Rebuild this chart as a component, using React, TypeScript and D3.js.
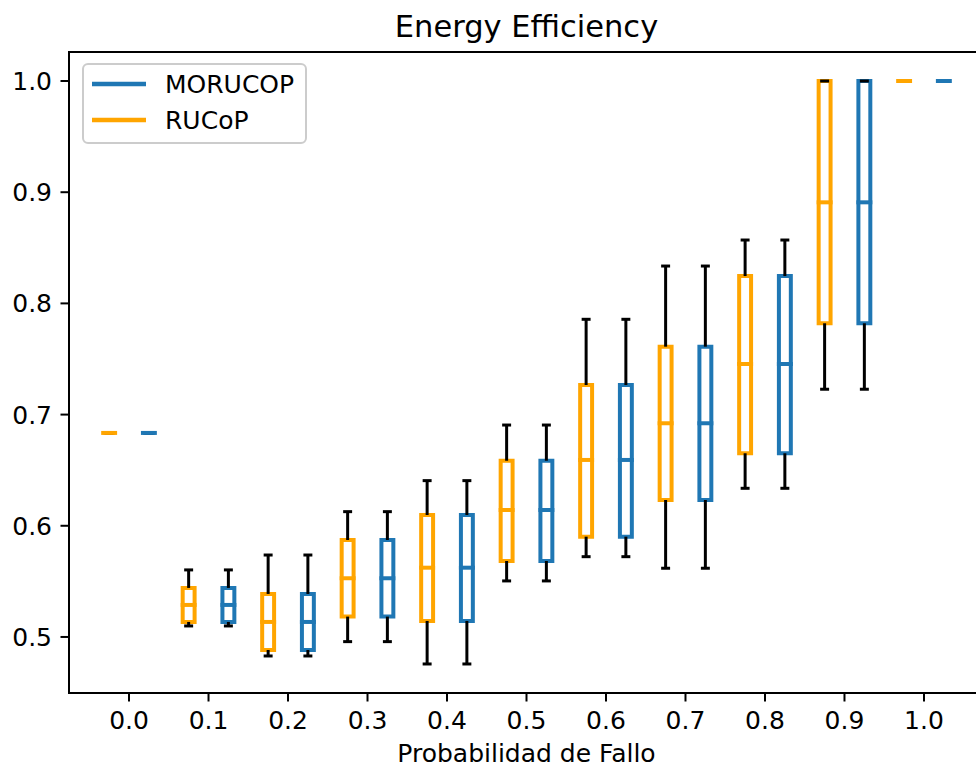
import React from "react";
import * as d3 from "d3";

const probabilities = [0.0, 0.1, 0.2, 0.3, 0.4, 0.5, 0.6, 0.7, 0.8, 0.9, 1.0];
// [whiskerLow, q1, median, q3, whiskerHigh]
const rucopStats = [
  [0.6835, 0.6835, 0.6835, 0.6835, 0.6835],
  [0.5099, 0.5135, 0.5288, 0.5441, 0.5603],
  [0.4829, 0.4883, 0.5135, 0.5387, 0.5737],
  [0.4958, 0.5183, 0.5528, 0.5872, 0.6127],
  [0.4757, 0.5144, 0.5623, 0.6097, 0.6406],
  [0.5504, 0.5683, 0.6142, 0.6585, 0.6906],
  [0.5722, 0.5902, 0.6592, 0.7266, 0.7857],
  [0.5618, 0.6232, 0.6922, 0.7611, 0.8336],
  [0.6337, 0.6652, 0.7455, 0.8246, 0.857],
  [0.7228, 0.7821, 0.8909, 1.0, 1.0],
  [1.0, 1.0, 1.0, 1.0, 1.0],
];
const morucopStats = [
  [0.6835, 0.6835, 0.6835, 0.6835, 0.6835],
  [0.5099, 0.5135, 0.5288, 0.5441, 0.5603],
  [0.4829, 0.4883, 0.5135, 0.5387, 0.5737],
  [0.4958, 0.5183, 0.5528, 0.5872, 0.6127],
  [0.4757, 0.5144, 0.5623, 0.6097, 0.6406],
  [0.5504, 0.5683, 0.6142, 0.6585, 0.6906],
  [0.5722, 0.5902, 0.6592, 0.7266, 0.7857],
  [0.5618, 0.6232, 0.6922, 0.7611, 0.8336],
  [0.6337, 0.6652, 0.7455, 0.8246, 0.857],
  [0.7228, 0.7821, 0.8909, 1.0, 1.0],
  [1.0, 1.0, 1.0, 1.0, 1.0],
];
const xTicks = [0.0, 0.1, 0.2, 0.3, 0.4, 0.5, 0.6, 0.7, 0.8, 0.9, 1.0];
const yTicks = [0.5, 0.6, 0.7, 0.8, 0.9, 1.0];

const series = [
  { name: "MORUCOP", color: "#1f77b4", offset: 0.025, stats: morucopStats },
  { name: "RUCoP", color: "#ffa500", offset: -0.025, stats: rucopStats },
];

const W = 976;
const H = 768;
const left = 69;
const right = 984;
const top = 52;
const bottom = 693;
const boxWidth = 0.015;
const font = "DejaVu Sans, sans-serif";

export default function App() {
  const x = d3.scaleLinear().domain([-0.0755, 1.0755]).range([left, right]);
  const y = d3.scaleLinear().domain([0.4496, 1.0261]).range([bottom, top]);
  const bw = x(boxWidth) - x(0);

  return (
    <svg
      width={W}
      height={H}
      style={{ position: "fixed", left: 0, top: 0, background: "#fff" }}
      fontFamily={font}
    >
      <rect x={0} y={0} width={W} height={H} fill="#fff" />
      <defs>
        <clipPath id="plot">
          <rect x={left} y={top - 5} width={right - left} height={bottom - top + 10} />
        </clipPath>
      </defs>
      <g clipPath="url(#plot)">
        {series.map((s) =>
          probabilities.map((p, i) => {
            const [lo, q1, med, q3, hi] = s.stats[i];
            const cx = x(p + s.offset);
            const x0 = cx - bw / 2;
            const x1 = cx + bw / 2;
            const boxPath = `M${x0},${y(q1)}L${x0},${y(q3)}L${x1},${y(q3)}L${x1},${y(q1)}Z`;
            return (
              <g key={s.name + i}>
                <path d={boxPath} fill="none" stroke={s.color} strokeWidth={4} strokeLinejoin="miter" />
                <line x1={cx} x2={cx} y1={y(q1)} y2={y(lo)} stroke="#000" strokeWidth={3} />
                <line x1={cx} x2={cx} y1={y(q3)} y2={y(hi)} stroke="#000" strokeWidth={3} />
                <line x1={cx - bw / 4} x2={cx + bw / 4} y1={y(lo)} y2={y(lo)} stroke="#000" strokeWidth={3} strokeLinecap="square" />
                <line x1={cx - bw / 4} x2={cx + bw / 4} y1={y(hi)} y2={y(hi)} stroke="#000" strokeWidth={3} strokeLinecap="square" />
                <line x1={x0} x2={x1} y1={y(med)} y2={y(med)} stroke={s.color} strokeWidth={4} strokeLinecap="square" />
              </g>
            );
          })
        )}
      </g>
      {/* spines */}
      <line x1={left} x2={left} y1={top} y2={bottom} stroke="#000" strokeWidth={2} strokeLinecap="square" />
      <line x1={left} x2={right} y1={bottom} y2={bottom} stroke="#000" strokeWidth={2} strokeLinecap="square" />
      <line x1={left} x2={right} y1={top} y2={top} stroke="#000" strokeWidth={2} strokeLinecap="square" />
      <line x1={right} x2={right} y1={top} y2={bottom} stroke="#000" strokeWidth={2} />
      {/* x ticks */}
      {xTicks.map((t) => (
        <g key={"x" + t}>
          <line x1={x(t)} x2={x(t)} y1={bottom} y2={bottom + 8.5} stroke="#000" strokeWidth={2} />
          <text x={x(t)} y={bottom + 36} textAnchor="middle" fontSize={25} fill="#000">
            {t.toFixed(1)}
          </text>
        </g>
      ))}
      {/* y ticks */}
      {yTicks.map((t) => (
        <g key={"y" + t}>
          <line x1={left - 8.5} x2={left} y1={y(t)} y2={y(t)} stroke="#000" strokeWidth={2} />
          <text x={left - 17} y={y(t) + 9} textAnchor="end" fontSize={25} fill="#000">
            {t.toFixed(1)}
          </text>
        </g>
      ))}
      <text x={(left + right) / 2} y={762} textAnchor="middle" fontSize={25} fill="#000">
        Probabilidad de Fallo
      </text>
      <text x={(left + right) / 2} y={37} textAnchor="middle" fontSize={30.5} fill="#000">
        Energy Efficiency
      </text>
      {/* legend */}
      <rect x={83} y={64} width={223} height={79} rx={5} fill="#fff" fillOpacity={0.8} stroke="#cccccc" strokeWidth={2} />
      {series.map((s, i) => (
        <g key={"leg" + s.name}>
          <line x1={92} x2={146} y1={84 + i * 36} y2={84 + i * 36} stroke={s.color} strokeWidth={4.5} />
          <text x={165} y={93 + i * 36} fontSize={25} fill="#000">
            {s.name}
          </text>
        </g>
      ))}
    </svg>
  );
}
